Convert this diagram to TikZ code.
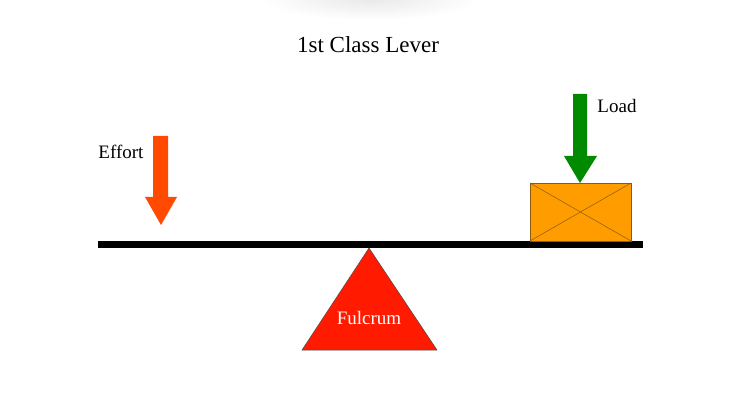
\documentclass[tikz,border=0pt]{standalone}
\usepackage{fontspec}
\setmainfont{Liberation Serif}
\definecolor{effortc}{HTML}{FF4A00}
\definecolor{loadc}{HTML}{008A00}
\definecolor{boxc}{HTML}{FF9C00}
\definecolor{boxline}{HTML}{8A5A10}
\definecolor{fulc}{HTML}{FF1A00}
\tikzset{
  lbl/.style={font=\fontsize{19}{22}\selectfont, inner sep=0pt, anchor=center},
}
\begin{document}
\begin{tikzpicture}[x=1pt,y=-1pt]
\useasboundingbox (0,0) rectangle (737,417);
% faint shadow at top
\begin{scope}
\clip (0,0) rectangle (737,30);
\shade[inner color=black!9, outer color=white] (370,-2) ellipse (110 and 22);
\end{scope}
% title
\node[lbl, font=\fontsize{23}{26}\selectfont] (title) at (368,45) {1st Class Lever};
% beam
\fill[black] (98,241) rectangle (643,248);
\coordinate (beamtop) at (369,248);
% fulcrum
\draw[fill=fulc, draw=black!70, line width=0.5pt] (369,248) -- (437,350) -- (302,350) -- cycle;
\node[lbl, text=white] (fulcrum) at (369,318) {Fulcrum};
% effort arrow
\fill[effortc] (153,136) -- (168,136) -- (168,197) -- (177,197) -- (161,225) -- (145,197) -- (153,197) -- cycle;
\node[lbl] (effort) at (121,152) {Effort};
% load box
\draw[fill=boxc, draw=boxline, line width=0.5pt] (530,183) rectangle (631,241);
\draw[boxline, line width=0.5pt] (530,183) -- (631,241) (530,241) -- (631,183);
% load arrow
\fill[loadc] (573,94) -- (587,94) -- (587,156) -- (597,156) -- (580,183) -- (564,156) -- (573,156) -- cycle;
\node[lbl] (load) at (617,106) {Load};
\end{tikzpicture}
\end{document}
